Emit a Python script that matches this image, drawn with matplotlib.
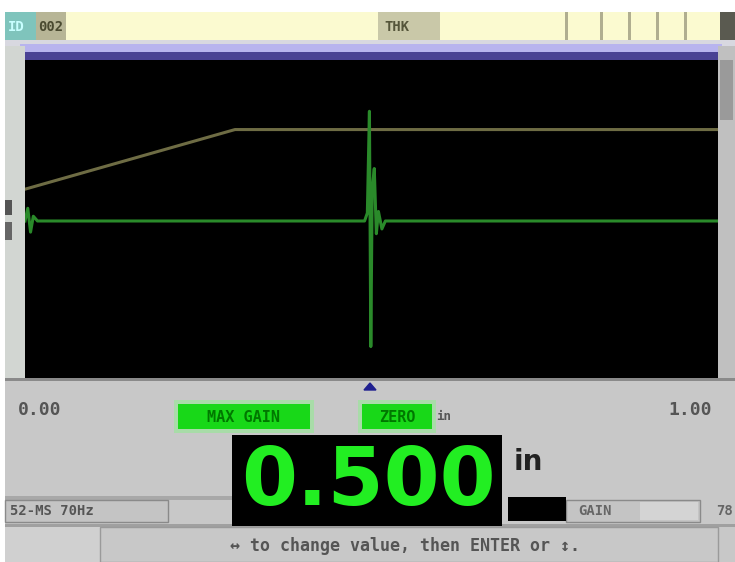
import matplotlib
matplotlib.use("Agg")
import matplotlib.pyplot as plt
from matplotlib.patches import Rectangle
from matplotlib import font_manager

# ---- data ----
x_range = [0.0, 1.0]
x_tick_labels = ["0.00", "1.00"]
wave_x = [0.000, 0.004, 0.008, 0.012, 0.018, 0.490, 0.494, 0.497, 0.499, 0.501,
          0.504, 0.507, 0.510, 0.515, 0.520, 1.000]
wave_y = [0, 8, -7, 3, 0, 0, 5, 69, -79, 20, 33, -8, 6, -5, 0, 0]
gate_x = [0.0, 0.303, 1.0]
gate_y = [20, 57.5, 57.5]
thickness_value = "0.500"
unit = "in"
header_id = "002"
status_left = "52-MS 70Hz"
status_right = ["GAIN", "78"]
labels_green = ["MAX GAIN", "ZERO"]
help_text = "\u2194 to change value, then ENTER or \u2195."

names = {f.name for f in font_manager.fontManager.ttflist}
big_family = "Liberation Sans Narrow" if "Liberation Sans Narrow" in names else "DejaVu Sans"
narrow = big_family == "Liberation Sans Narrow"

W, H = 735, 562
fig = plt.figure(figsize=(W / 100, H / 100), dpi=100)
fig.patch.set_facecolor("white")

bg = fig.add_axes([0, 0, 1, 1])
bg.set_xlim(0, W)
bg.set_ylim(H, 0)
bg.axis("off")

def rect(x0, y0, x1, y1, fc, ec="none", lw=0, z=1):
    bg.add_patch(Rectangle((x0, y0), x1 - x0, y1 - y0, facecolor=fc, edgecolor=ec, lw=lw, zorder=z))

mono = "DejaVu Sans Mono"
rect(5, 12, W, H, "#c8c8c8")
rect(5, 12, W, 40, "#fbfad0")
rect(5, 12, 36, 40, "#7fc4bc")
rect(36, 12, 66, 40, "#b7b596")
rect(378, 12, 440, 40, "#c9c8a8")
for x0 in (565, 600, 628, 656, 684):
    rect(x0, 12, x0 + 3, 40, "#b0ae90")
rect(720, 12, W, 40, "#5a5a50")
bg.text(8, 27, "ID", color="#c8ffff", fontsize=10, fontweight="bold", va="center", family=mono, zorder=3)
bg.text(38, 27, header_id, color="#4a4a30", fontsize=10, fontweight="bold", va="center", family=mono, zorder=3)
bg.text(384, 27, "THK", color="#55553a", fontsize=10, fontweight="bold", va="center", family=mono, zorder=3)
rect(5, 40, W, 46, "#d8d8e0")
rect(20, 44, 722, 52, "#b8b4ee")
rect(20, 52, 722, 60, "#4a4294")
rect(5, 46, 25, 380, "#d2d6d2")
rect(5, 200, 12, 215, "#555555")
rect(5, 222, 12, 240, "#666666")
rect(718, 46, 735, 380, "#c0c0c0")
rect(720, 60, 733, 120, "#9a9a9a")
rect(5, 378, 735, 381, "#8a8a8a")

ax = fig.add_axes([25 / W, 1 - 378 / H, 693 / W, 318 / H])
ax.set_facecolor("black")
ax.plot(gate_x, gate_y, color="#6e6c44", lw=2.2, zorder=2)
ax.plot(wave_x, wave_y, color="#2a8a2a", lw=2.2, zorder=3)
ax.set_xlim(*x_range)
ax.set_ylim(-98.75, 101.25)
ax.set_xticks([])
ax.set_yticks([])
for s in ax.spines.values():
    s.set_visible(False)

bg.add_patch(plt.Polygon([[364, 390], [376, 390], [370, 383]], color="#202090", zorder=3))

bg.text(18, 410, x_tick_labels[0], color="#555555", fontsize=13, fontweight="bold", va="center", family=mono, zorder=3)
bg.text(712, 410, x_tick_labels[1], color="#555555", fontsize=13, fontweight="bold", va="center", ha="right", family=mono, zorder=3)

for (x0, x1, t) in [(178, 310, labels_green[0]), (362, 432, labels_green[1])]:
    rect(x0 - 4, 400, x1 + 4, 433, "#a8dca8", z=2)
    rect(x0, 404, x1, 429, "#18d818", z=3)
    bg.text((x0 + x1) / 2, 417, t, color="#007800", fontsize=11, fontweight="bold",
            ha="center", va="center", family=mono, zorder=4)
bg.text(436, 417, unit, color="#555555", fontsize=9, fontweight="bold", va="center", family=mono, zorder=3)

rect(232, 435, 502, 526, "black", z=3)
bg.text(496, 483, thickness_value, color="#22ee22", fontsize=(72 if narrow else 58),
        fontweight="bold", ha="right", va="center", family=big_family, zorder=4)
bg.text(514, 462, unit, color="#222222", fontsize=20, fontweight="bold", va="center", family="DejaVu Sans", zorder=3)
rect(508, 497, 566, 521, "black", z=3)

rect(5, 496, 232, 500, "#a8a8a8", z=2)
rect(5, 500, 168, 522, "#c4c4c4", ec="#8a8a8a", lw=1, z=2)
bg.text(10, 511, status_left, color="#555555", fontsize=10, fontweight="bold", va="center", family=mono, zorder=3)
rect(566, 500, 700, 522, "#c4c4c4", ec="#8a8a8a", lw=1, z=2)
rect(640, 502, 698, 520, "#d4d4d4", z=2)
bg.text(578, 511, status_right[0], color="#666666", fontsize=10, fontweight="bold", va="center", family=mono, zorder=3)
bg.text(733, 511, status_right[1], color="#666666", fontsize=10, fontweight="bold", va="center", ha="right", family=mono, zorder=3)

rect(5, 524, W, 527, "#a0a0a0", z=2)
rect(5, 527, 100, 562, "#d0d0d0", z=2)
rect(100, 527, 718, 562, "#c8c8c8", ec="#9a9a9a", lw=1, z=2)
bg.text(405, 546, help_text, color="#555555", fontsize=12, fontweight="bold", ha="center", va="center",
        family=[mono, "DejaVu Sans"], zorder=3)

fig.savefig("out.png", dpi=100)
